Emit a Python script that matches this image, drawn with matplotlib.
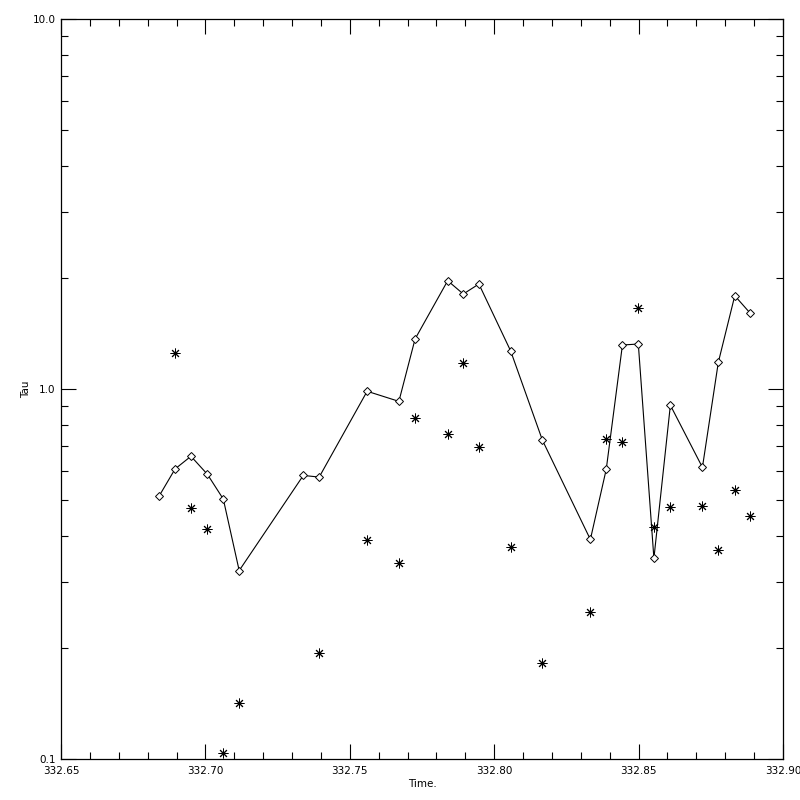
"""Tau vs time, IDL-style log plot."""

import matplotlib
matplotlib.use("Agg")
import matplotlib.pyplot as plt
import numpy as np
from matplotlib.ticker import FixedLocator, FixedFormatter, LogLocator, NullFormatter, MultipleLocator

time = [332.6840, 332.6895, 332.6950, 332.7007, 332.7062, 332.7117,
        332.7339, 332.7394, 332.7560, 332.7670, 332.7726, 332.7839,
        332.7893, 332.7947, 332.8057, 332.8167, 332.8333, 332.8388,
        332.8444, 332.8499, 332.8553, 332.8610, 332.8721, 332.8776,
        332.8833, 332.8887]

tau_line = [0.514, 0.608, 0.658, 0.588, 0.504, 0.323,
            0.584, 0.578, 0.986, 0.926, 1.365, 1.962,
            1.806, 1.922, 1.267, 0.727, 0.392, 0.607,
            1.315, 1.323, 0.3485, 0.904, 0.614, 1.180,
            1.787, 1.601]

tau_star = [np.nan, 1.249, 0.476, 0.418, 0.104, 0.1414,
            np.nan, 0.193, 0.390, 0.338, 0.833, 0.756,
            1.173, 0.696, 0.373, 0.182, 0.250, 0.731,
            0.718, 1.652, 0.423, 0.479, 0.482, 0.367,
            0.532, 0.454]

fig = plt.figure(figsize=(8, 8), dpi=100)
ax = fig.add_axes([61 / 800, 41 / 800, 722 / 800, 740 / 800])

ax.plot(time, tau_line, color="black", linewidth=0.8, marker="D", markersize=4.2,
        markerfacecolor="white", markeredgecolor="black", markeredgewidth=0.7)
ax.plot(time, tau_star, linestyle="none", marker=(8, 2, 0), markersize=7,
        color="black", markeredgewidth=0.7)

ax.set_yscale("log")
ax.set_xlim(332.65, 332.90)
ax.set_ylim(0.1, 10.0)

ax.xaxis.set_major_locator(FixedLocator([332.65, 332.70, 332.75, 332.80, 332.85, 332.90]))
ax.xaxis.set_major_formatter(FixedFormatter(["332.65", "332.70", "332.75", "332.80", "332.85", "332.90"]))
ax.xaxis.set_minor_locator(MultipleLocator(0.01))

ax.yaxis.set_major_locator(FixedLocator([0.1, 1.0, 10.0]))
ax.yaxis.set_major_formatter(FixedFormatter(["0.1", "1.0", "10.0"]))
ax.yaxis.set_minor_locator(LogLocator(base=10, subs=np.arange(2, 10)))
ax.yaxis.set_minor_formatter(NullFormatter())

ax.tick_params(which="both", direction="in", top=True, right=True,
               labelsize=7.5, width=0.8)
ax.tick_params(axis="x", pad=5)
ax.tick_params(axis="y", pad=4)
ax.tick_params(which="major", length=11)
ax.tick_params(which="minor", length=5)
for spine in ax.spines.values():
    spine.set_linewidth(0.9)

ax.set_xlabel("Time.", fontsize=7.5, labelpad=2)
ax.set_ylabel("Tau", fontsize=7.5, labelpad=1)

fig.savefig("out.png", dpi=100)
